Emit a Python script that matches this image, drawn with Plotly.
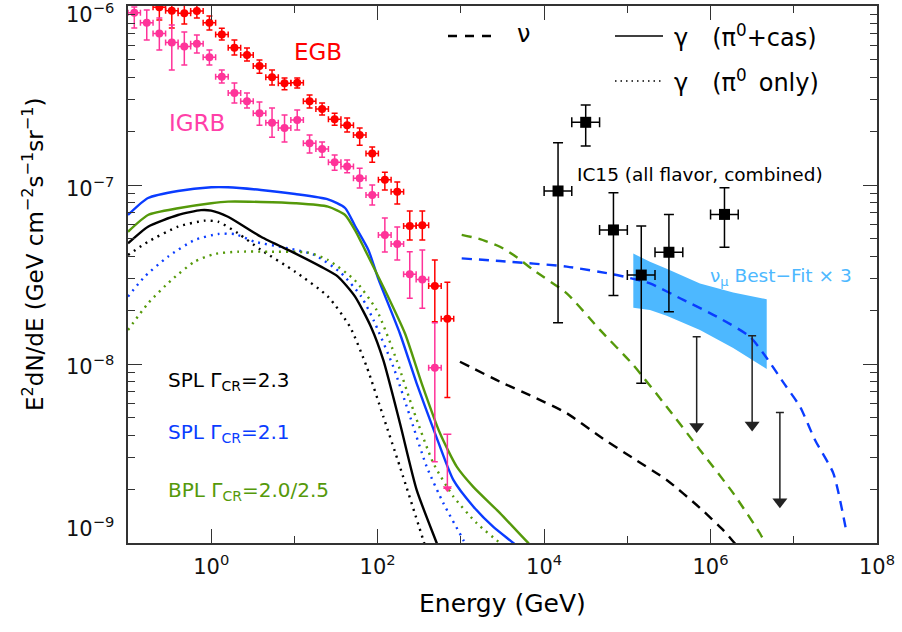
import math
import plotly.graph_objects as go

# ---------------- data ----------------
# Fermi bin edges (GeV)
fermi_bin_edges = [0.100, 0.141, 0.200, 0.283, 0.400, 0.566, 0.800, 1.13, 1.60, 2.26,
                   3.20, 4.53, 6.40, 9.05, 12.8, 18.1, 25.6, 36.2, 51.2, 72.4,
                   102, 145, 205, 290, 410, 580, 820]

# EGB (red)
egb_energy = [0.238, 0.336, 0.475, 0.672, 0.951, 1.34, 1.90, 2.69, 3.80, 5.38, 7.60, 10.8,
              15.2, 21.5, 30.4, 43.0, 60.8, 86.0, 122, 172, 243, 344, 486, 688]
egb_flux = [9.83e-7, 9.41e-7, 9.10e-7, 9.38e-7, 8.07e-7, 6.92e-7, 5.85e-7, 5.33e-7, 4.62e-7,
            4.00e-7, 3.70e-7, 3.73e-7, 2.94e-7, 2.66e-7, 2.33e-7, 2.16e-7, 1.90e-7, 1.50e-7,
            1.07e-7, 9.18e-8, 5.90e-8, 5.96e-8, 2.73e-8, 1.79e-8]
egb_upper = [1.15e-6, 1.08e-6, 1.04e-6, 1.01e-6, 8.79e-7, 7.50e-7, 6.45e-7, 5.83e-7, 4.99e-7,
             4.39e-7, 3.96e-7, 3.96e-7, 3.18e-7, 2.87e-7, 2.52e-7, 2.37e-7, 2.08e-7, 1.63e-7,
             1.18e-7, 1.04e-7, 7.16e-8, 7.16e-8, 3.81e-8, 2.86e-8]
egb_lower = [8.35e-7, 7.53e-7, 7.93e-7, 8.57e-7, 7.35e-7, 6.45e-7, 5.32e-7, 4.93e-7, 4.21e-7,
             3.62e-7, 3.40e-7, 3.48e-7, 2.69e-7, 2.46e-7, 2.16e-7, 1.98e-7, 1.67e-7, 1.34e-7,
             9.38e-8, 7.83e-8, 4.93e-8, 4.93e-8, 1.72e-8, 6.49e-9]

# IGRB (pink)
igrb_energy = [0.119, 0.168, 0.238, 0.336, 0.475, 0.672, 0.951, 1.34, 1.90, 2.69, 3.80, 5.38,
               7.60, 10.8, 15.2, 21.5, 30.4, 43.0, 60.8, 86.0, 122, 172, 243, 344, 486]
igrb_flux = [9.18e-7, 8.07e-7, 7.03e-7, 6.26e-7, 5.93e-7, 6.15e-7, 5.17e-7, 4.03e-7, 3.27e-7,
             2.94e-7, 2.52e-7, 2.23e-7, 2.08e-7, 2.31e-7, 1.71e-7, 1.59e-7, 1.34e-7, 1.27e-7,
             1.09e-7, 8.79e-8, 5.26e-8, 4.68e-8, 3.17e-8, 2.97e-8, 9.53e-9]
igrb_upper = [9.87e-7, 9.50e-7, 8.57e-7, 7.83e-7, 7.16e-7, 6.89e-7, 5.68e-7, 4.39e-7, 3.71e-7,
              3.27e-7, 2.91e-7, 2.69e-7, 2.46e-7, 2.62e-7, 1.90e-7, 1.74e-7, 1.47e-7, 1.38e-7,
              1.24e-7, 1.00e-7, 6.55e-8, 5.83e-8, 4.24e-8, 4.33e-8, 1.70e-8]
igrb_lower = [7.53e-7, 6.45e-7, 5.68e-7, 4.39e-7, 4.68e-7, 5.46e-7, 4.68e-7, 3.71e-7, 2.87e-7,
              2.69e-7, 2.16e-7, 1.85e-7, 1.74e-7, 2.03e-7, 1.51e-7, 1.43e-7, 1.21e-7, 1.17e-7,
              9.62e-8, 7.73e-8, 4.23e-8, 3.81e-8, 2.33e-8, 2.05e-8, 2.84e-9]
igrb_ul_energy = [688]
igrb_ul_flux = [4.05e-9]
igrb_ul_tip = [2.02e-9]

# IceCube IC15 (all flavor, combined)
ic_energy = [1.47e4, 3.16e4, 6.81e4, 1.47e5, 3.16e5, 1.47e6]
ic_e_lo = [1.00e4, 2.15e4, 4.64e4, 1.00e5, 2.15e5, 1.00e6]
ic_e_hi = [2.15e4, 4.64e4, 1.00e5, 2.15e5, 4.64e5, 2.15e6]
ic_flux = [9.26e-8, 2.24e-7, 5.61e-8, 3.14e-8, 4.21e-8, 6.85e-8]
ic_upper = [1.72e-7, 2.80e-7, 9.06e-8, 5.90e-8, 6.85e-8, 9.66e-8]
ic_lower = [1.70e-8, 1.65e-7, 2.41e-8, 7.80e-9, 1.96e-8, 4.49e-8]
ic_ul_energy = [6.81e5, 3.16e6, 6.81e6]
ic_ul_flux = [1.42e-8, 1.44e-8, 5.35e-9]
ic_ul_tip = [4.47e-9, 4.56e-9, 1.70e-9]

# nu_mu best fit x 3 band
band_energy = [1.18e5, 1.87e5, 2.97e5, 7.46e5, 1.87e6, 4.73e6]
band_top = [4.14e-8, 3.72e-8, 3.40e-8, 2.82e-8, 2.51e-8, 2.30e-8]
band_bottom = [2.06e-8, 2.00e-8, 1.86e-8, 1.55e-8, 1.23e-8, 9.37e-9]

# gamma, pi0 + cascade (solid)
spl23_cas_e = [0.100, 0.174, 0.399, 0.753, 1.00, 1.59, 3.96, 10.2, 20.8, 33.3, 53.5, 83.2, 117, 185, 294, 512, 561]
spl23_cas_f = [4.72e-8, 5.85e-8, 6.80e-8, 7.24e-8, 7.19e-8, 6.65e-8, 5.14e-8, 4.15e-8, 3.50e-8, 3.08e-8,
               2.38e-8, 1.61e-8, 1.05e-8, 4.68e-9, 1.98e-9, 1.00e-9, 8.91e-10]
spl21_cas_e = [0.100, 0.174, 0.399, 1.00, 1.59, 3.96, 10.2, 25.3, 40.6, 53.5, 77.3, 101, 185, 294, 489, 811,
               1409, 2455, 4266, 5128]
spl21_cas_f = [6.80e-8, 8.46e-8, 9.26e-8, 9.71e-8, 9.71e-8, 9.38e-8, 8.91e-8, 8.32e-8, 7.44e-8, 5.90e-8,
               4.34e-8, 3.02e-8, 1.48e-8, 7.80e-9, 4.10e-9, 2.25e-9, 1.60e-9, 1.23e-9, 1.00e-9, 9.26e-10]
bpl_cas_e = [0.100, 0.174, 0.399, 1.00, 1.59, 3.96, 10.2, 25.3, 40.6, 55.0, 70.5, 122, 213, 338, 561, 891,
             1409, 2951, 6457, 7834]
bpl_cas_f = [5.48e-8, 6.80e-8, 7.41e-8, 7.91e-8, 8.07e-8, 8.04e-8, 7.91e-8, 7.57e-8, 6.80e-8, 5.46e-8,
             4.34e-8, 2.59e-8, 1.48e-8, 7.80e-9, 4.10e-9, 2.67e-9, 2.06e-9, 1.47e-9, 1.00e-9, 9.26e-10]

# gamma, pi0 only (dotted)
spl23_pi0_e = [0.100, 0.174, 0.399, 0.836, 1.21, 2.10, 3.96, 10.2, 25.3, 46.6, 73.8, 117, 185, 353, 371]
spl23_pi0_f = [4.06e-8, 4.82e-8, 5.85e-8, 6.32e-8, 6.24e-8, 5.37e-8, 4.34e-8, 3.28e-8, 2.38e-8, 1.61e-8,
               9.66e-9, 5.08e-9, 2.67e-9, 1.04e-9, 9.62e-10]
spl21_pi0_e = [0.100, 0.159, 0.303, 0.633, 1.21, 1.91, 3.33, 8.37, 17.5, 36.6, 63.6, 89.1, 154, 245, 388,
               615, 1069, 1153]
spl21_pi0_f = [2.38e-8, 3.08e-8, 3.98e-8, 4.93e-8, 5.32e-8, 5.32e-8, 4.82e-8, 4.43e-8, 4.06e-8, 3.21e-8,
               2.38e-8, 1.76e-8, 9.66e-9, 5.08e-9, 2.67e-9, 1.67e-9, 1.04e-9, 9.62e-10]
bpl_pi0_e = [0.100, 0.174, 0.331, 0.633, 1.10, 2.10, 4.81, 14.6, 25.3, 53.0, 97.3, 169, 268, 467, 811,
             1549, 2951, 3388]
bpl_pi0_f = [1.55e-8, 2.18e-8, 2.94e-8, 3.73e-8, 4.12e-8, 4.24e-8, 4.24e-8, 4.19e-8, 3.81e-8, 2.94e-8,
             2.00e-8, 1.05e-8, 5.53e-9, 2.79e-9, 1.82e-9, 1.29e-9, 1.00e-9, 9.50e-10]

# neutrinos (dashed)
spl23_nu_e = [975, 2951, 7413, 1.87e4, 4.69e4, 1.18e5, 2.97e5, 7.46e5, 1.42e6, 1.87e6, 2.09e6]
spl23_nu_f = [1.03e-8, 7.96e-9, 6.56e-9, 5.31e-9, 3.93e-9, 2.97e-9, 2.25e-9, 1.57e-9, 1.18e-9, 1.02e-9, 9.62e-10]
bpl_nu_e = [1023, 1660, 2951, 4700, 7413, 1.87e4, 4.69e4, 1.18e5, 2.97e5, 7.46e5, 1.87e6, 3.93e6, 4.51e6, 4.78e6]
bpl_nu_f = [5.26e-8, 5.00e-8, 4.52e-8, 3.95e-8, 3.35e-8, 2.48e-8, 1.55e-8, 9.86e-9, 5.77e-9, 3.31e-9,
            1.90e-9, 1.13e-9, 1.00e-9, 9.50e-10]
spl21_nu_e = [1023, 2951, 1.87e4, 7.45e4, 1.87e5, 4.71e5, 1.19e6, 2.98e6, 4.73e6, 7.85e6, 1.19e7, 1.80e7,
              2.99e7, 4.33e7]
spl21_nu_f = [3.89e-8, 3.76e-8, 3.50e-8, 3.14e-8, 2.82e-8, 2.28e-8, 1.84e-8, 1.42e-8, 1.08e-8, 7.64e-9,
              5.77e-9, 3.76e-9, 2.45e-9, 1.13e-9]

x_tick_vals = [1, 1e2, 1e4, 1e6, 1e8]
x_tick_text = ['10<sup>0</sup>', '10<sup>2</sup>', '10<sup>4</sup>', '10<sup>6</sup>', '10<sup>8</sup>']
y_tick_vals = [1e-9, 1e-8, 1e-7, 1e-6]
y_tick_text = ['10<sup>\u22129</sup>', '10<sup>\u22128</sup>', '10<sup>\u22127</sup>', '10<sup>\u22126</sup>']

# ---------------- styling ----------------
BLACK = '#000000'
BLUE = '#0A3CFF'
GREEN = '#55990A'
RED = '#FF0000'
PINK = '#FF3399'
SKY = '#4DB8FF'
LW = 2.4
DASH = '10px,7px'
DOT = '2px,5px'
FONT = 'DejaVu Sans'

fig = go.Figure()


def line(x, y, color, dash='solid'):
    fig.add_trace(go.Scatter(x=x, y=y, mode='lines',
                             line=dict(color=color, width=LW, dash=dash, shape='spline', smoothing=0.6),
                             hoverinfo='skip', showlegend=False))


# band
fig.add_trace(go.Scatter(x=band_energy + band_energy[::-1], y=band_top + band_bottom[::-1],
                         mode='lines', fill='toself', fillcolor=SKY, line=dict(width=0, color=SKY),
                         hoverinfo='skip', showlegend=False))

# dotted pi0-only
line(spl23_pi0_e, spl23_pi0_f, BLACK, DOT)
line(spl21_pi0_e, spl21_pi0_f, BLUE, DOT)
line(bpl_pi0_e, bpl_pi0_f, GREEN, DOT)
# solid pi0+cas
line(spl23_cas_e, spl23_cas_f, BLACK)
line(spl21_cas_e, spl21_cas_f, BLUE)
line(bpl_cas_e, bpl_cas_f, GREEN)
# dashed neutrinos
line(spl23_nu_e, spl23_nu_f, BLACK, DASH)
line(bpl_nu_e, bpl_nu_f, GREEN, DASH)
line(spl21_nu_e, spl21_nu_f, BLUE, DASH)


def points(e, f, up, lo, e_lo, e_hi, color, size, symbol, cap):
    fig.add_trace(go.Scatter(
        x=e, y=f, mode='markers',
        marker=dict(color=color, size=size, symbol=symbol, line=dict(width=0)),
        error_y=dict(type='data', symmetric=False,
                     array=[u - v for u, v in zip(up, f)],
                     arrayminus=[v - l for v, l in zip(f, lo)],
                     color=color, thickness=1.5, width=cap),
        error_x=dict(type='data', symmetric=False,
                     array=[h - v for h, v in zip(e_hi, e)],
                     arrayminus=[v - l for v, l in zip(e, e_lo)],
                     color=color, thickness=1.5, width=cap),
        hoverinfo='skip', showlegend=False))


def upper_limits(e, top, tip, color, size):
    fig.add_trace(go.Scatter(
        x=e, y=top, mode='markers', marker=dict(size=1, color='rgba(0,0,0,0)'),
        error_y=dict(type='data', symmetric=False, array=[0] * len(e),
                     arrayminus=[t - b for t, b in zip(top, tip)],
                     color=color, thickness=1.5, width=4),
        hoverinfo='skip', showlegend=False))
    fig.add_trace(go.Scatter(
        x=e, y=tip, mode='markers',
        marker=dict(symbol='triangle-down', size=size, color=color, line=dict(width=0)),
        hoverinfo='skip', showlegend=False))


points(egb_energy, egb_flux, egb_upper, egb_lower, fermi_bin_edges[2:26], fermi_bin_edges[3:27],
       RED, 8, 'circle', 3)
points(igrb_energy, igrb_flux, igrb_upper, igrb_lower, fermi_bin_edges[0:25], fermi_bin_edges[1:26],
       PINK, 8, 'circle', 3)
upper_limits(igrb_ul_energy, igrb_ul_flux, igrb_ul_tip, PINK, 8)
points(ic_energy, ic_flux, ic_upper, ic_lower, ic_e_lo, ic_e_hi, BLACK, 11, 'square', 5)
upper_limits(ic_ul_energy, ic_ul_flux, ic_ul_tip, '#222222', 13)

# ---------------- layout ----------------
L, R, T, B = 128, 25, 6, 89
W, H = 902, 632
PW, PH = W - L - R, H - T - B


def px(xp):
    return (xp - L) / PW


def py(yp):
    return (H - B - yp) / PH


SP = '\u2002'
annotations = [
    dict(text='EGB', x=px(318), y=py(52), font=dict(size=23, color=RED)),
    dict(text='IGRB', x=px(197), y=py(123), font=dict(size=23, color='#FF3FA8')),
    dict(text='SPL \u0393<sub>CR</sub>=2.3', x=px(166), y=py(381), xanchor='left',
         font=dict(size=20, color=BLACK)),
    dict(text='SPL \u0393<sub>CR</sub>=2.1', x=px(166), y=py(433), xanchor='left',
         font=dict(size=20, color=BLUE)),
    dict(text='BPL \u0393<sub>CR</sub>=2.0/2.5', x=px(166), y=py(491), xanchor='left',
         font=dict(size=20, color=GREEN)),
    dict(text='IC15 (all flavor, combined)', x=px(700), y=py(174), font=dict(size=18.5, color=BLACK)),
    dict(text='\u03bd<sub>\u03bc</sub> Best\u2212Fit \u00d7 3', x=px(781), y=py(277),
         font=dict(size=18.5, color=SKY)),
    dict(text='\u03bd', x=px(523), y=py(34), font=dict(size=24, color=BLACK)),
    dict(text='\u03b3' + SP * 2 + '(\u03c0<sup>0</sup>+cas)', x=px(672), y=py(36), xanchor='left',
         font=dict(size=24, color=BLACK)),
    dict(text='\u03b3' + SP * 2 + '(\u03c0<sup>0</sup>' + SP + 'only)', x=px(672), y=py(81), xanchor='left',
         font=dict(size=24, color=BLACK)),
    dict(text='Energy (GeV)', x=0.5, y=py(603), font=dict(size=25, color=BLACK)),
    dict(text='E<sup>2</sup>dN/dE (GeV cm<sup>\u22122</sup>s<sup>\u22121</sup>sr<sup>\u22121</sup>)',
         x=px(33), y=py(255), textangle=-90, font=dict(size=23, color=BLACK)),
]
for a in annotations:
    a.setdefault('xanchor', 'center')
    a.update(xref='paper', yref='paper', yanchor='middle', showarrow=False)

# y tick labels placed like the reference (kept inside the frame height)
y_label_shift = [16, -1, -2, -7]
for val, txt, sh in zip(y_tick_vals, y_tick_text, y_label_shift):
    annotations.append(dict(text=txt, xref='paper', x=px(116), xanchor='right',
                            yref='y', y=math.log10(val), yanchor='middle', yshift=sh,
                            showarrow=False, font=dict(family=FONT, size=21, color='#111111')))

shapes = [
    dict(type='line', xref='paper', yref='paper', x0=px(448), x1=px(497), y0=py(36), y1=py(36),
         line=dict(color=BLACK, width=LW, dash='9px,8px')),
    dict(type='line', xref='paper', yref='paper', x0=px(615), x1=px(663), y0=py(36), y1=py(36),
         line=dict(color=BLACK, width=1.6)),
    dict(type='line', xref='paper', yref='paper', x0=px(615), x1=px(663), y0=py(81), y1=py(81),
         line=dict(color=BLACK, width=1.6, dash='1.5px,4px')),
]

y_minor = [m * 10.0 ** d for d in (-9, -8, -7) for m in range(2, 10)]
axis_common = dict(type='log', showgrid=False, zeroline=False, showline=True, linecolor='#333333',
                   linewidth=1.5, mirror='allticks', ticks='inside', ticklen=14, tickwidth=1.3,
                   tickcolor='#333333', automargin=False, ticklabeloverflow='allow',
                   tickfont=dict(family=FONT, size=21, color='#111111'))

fig.update_layout(
    width=W, height=H, margin=dict(l=L, r=R, t=T, b=B, autoexpand=False),
    paper_bgcolor='white', plot_bgcolor='white',
    font=dict(family=FONT, color=BLACK),
    showlegend=False,
    annotations=annotations, shapes=shapes,
    xaxis=dict(axis_common, range=[-1, 8], tickmode='array', tickvals=x_tick_vals, ticktext=x_tick_text,
               ticklabelstandoff=4,
               minor=dict(tickmode='array', tickvals=[10, 1e3, 1e5, 1e7], ticks='inside', ticklen=7,
                          tickwidth=1.3, tickcolor='#333333', showgrid=False)),
    yaxis=dict(axis_common, range=[-9, -6], tickmode='array', tickvals=y_tick_vals,
               showticklabels=False,
               minor=dict(tickmode='array', tickvals=y_minor, ticks='inside', ticklen=7,
                          tickwidth=1.3, tickcolor='#333333', showgrid=False)),
)

fig.write_html('out.html', config={'displayModeBar': False},
               post_script="document.body.style.margin='0px';")
